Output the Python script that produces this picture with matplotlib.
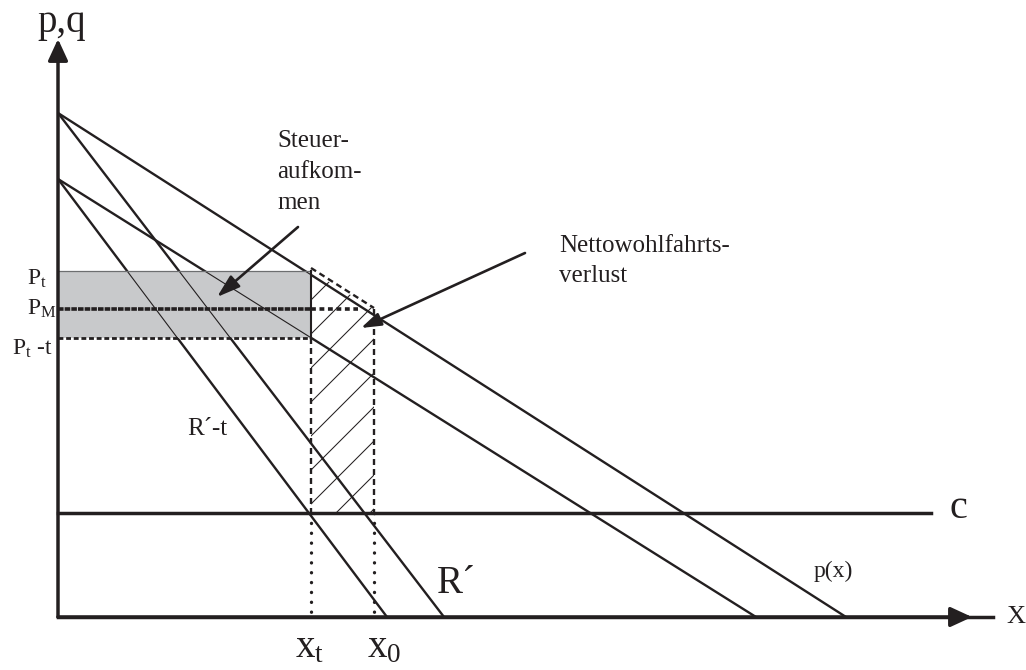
import numpy as np
import matplotlib.pyplot as plt
from matplotlib.patches import Rectangle, Polygon

plt.rcParams['font.family'] = ['Liberation Serif', 'DejaVu Serif']
plt.rcParams['mathtext.fontset'] = 'custom'
plt.rcParams['mathtext.rm'] = 'Liberation Serif'
plt.rcParams['mathtext.it'] = 'Liberation Serif:italic'
plt.rcParams['lines.scale_dashes'] = False

INK = '#231f20'
GREY_FILL = '#c8c9cb'

# straight lines: price-axis intercept and quantity-axis intercept
line_names = ['p(x)', 'R´', 'p(x)-t', 'R´-t']
price_intercepts = [504, 504, 438, 438]
quantity_intercepts = [788, 386, 698, 329]

marginal_cost = 104
x_t, x_0 = 253, 316
p_t, p_m, p_t_minus_t = 346, 308, 279
pm_line_end = 300

# axis lengths
y_axis_top = 578
x_axis_tip, x_axis_end = 914, 935
c_line_end = 873

steuer_lines = ['Steuer-', 'aufkom-', 'men']
netto_lines = ['Nettowohlfahrts-', 'verlust']

fig = plt.figure(figsize=(10.26, 6.70), dpi=100)
ax = fig.add_axes([0, 0, 1, 1])
ax.set_xlim(-58, 968)
ax.set_ylim(-53, 617)
ax.axis('off')

# demand and marginal revenue curves
for p0, q0 in zip(price_intercepts, quantity_intercepts):
    ax.plot([0, q0], [p0, 0], color=INK, lw=1.7, zorder=2, solid_capstyle='butt')

# tax revenue block, lines show through thinner
rect = Rectangle((0, p_t_minus_t), x_t, p_t - p_t_minus_t,
                 facecolor=GREY_FILL, edgecolor='none', zorder=3)
ax.add_patch(rect)
for p0, q0 in zip(price_intercepts, quantity_intercepts):
    ln, = ax.plot([0, q0], [p0, 0], color=INK, lw=0.8, zorder=4)
    ln.set_clip_path(rect)
ax.plot([0, x_t], [p_t, p_t], color='#6d6e70', lw=0.9, zorder=5)
ax.plot([x_t, x_t], [p_t_minus_t, p_t], color=INK, lw=1.5, zorder=5)
ax.plot([0, x_t], [p_t_minus_t, p_t_minus_t], color=INK, lw=2.0,
        linestyle=(0, (3.5, 2.0)), zorder=5, dash_capstyle='butt')

# monopoly price line
ax.plot([0, x_t], [p_m, p_m], color=INK, lw=2.6,
        linestyle=(0, (4.0, 0.8)), zorder=5, dash_capstyle='butt')
ax.plot([x_t, pm_line_end], [p_m, p_m], color=INK, lw=2.6,
        linestyle=(0, (3.5, 2.6)), zorder=5, dash_capstyle='butt')

# deadweight loss area, hatched
loss = Polygon([(x_t, marginal_cost), (x_t, p_t), (x_0, p_m), (x_0, marginal_cost)],
               closed=True, facecolor='none', edgecolor='none', zorder=1)
ax.add_patch(loss)
for b in np.arange(64, -220, -34):
    xs = np.array([x_t - 20, x_0 + 20])
    hl, = ax.plot(xs, xs + b, color=INK, lw=0.75, zorder=2)
    hl.set_clip_path(loss)

dash = (0, (4.3, 2.9))
ax.plot([x_t, x_0], [p_t + 3, p_m + 1], color=INK, lw=1.7, linestyle=dash, zorder=5)
ax.plot([x_0, x_0], [p_m, marginal_cost], color=INK, lw=1.7, linestyle=dash, zorder=5)
ax.plot([x_t, x_t], [p_t_minus_t, marginal_cost], color=INK, lw=1.7, linestyle=dash, zorder=5)

dots = (0, (0.1, 7.0))
for xv in (x_t, x_0):
    ax.plot([xv, xv], [marginal_cost, 0], color=INK, lw=2.4, linestyle=dots,
            dash_capstyle='round', zorder=5)

# marginal cost
ax.plot([0, c_line_end], [marginal_cost, marginal_cost], color=INK, lw=2.5, zorder=6)

# coordinate axes
ax.plot([0, x_axis_end], [0, 0], color=INK, lw=2.5, zorder=7)
ax.annotate('', xy=(x_axis_tip, 0), xytext=(0, 0),
            arrowprops=dict(arrowstyle='-|>,head_length=1.3,head_width=0.6',
                            lw=2.5, color=INK, shrinkA=0, shrinkB=0,
                            mutation_scale=10), zorder=7)
ax.annotate('', xy=(0, y_axis_top), xytext=(0, 0),
            arrowprops=dict(arrowstyle='-|>,head_length=1.3,head_width=0.6',
                            lw=2.5, color=INK, shrinkA=0, shrinkB=0,
                            mutation_scale=10), zorder=7)

# pointer arrows
ax.annotate('', xy=(159, 320), xytext=(240, 390),
            arrowprops=dict(arrowstyle='-|>,head_length=1.4,head_width=0.45',
                            lw=1.9, color=INK, shrinkA=0, shrinkB=0), zorder=8)
ax.annotate('', xy=(303, 289), xytext=(467, 364),
            arrowprops=dict(arrowstyle='-|>,head_length=1.2,head_width=0.4',
                            lw=1.9, color=INK, shrinkA=0, shrinkB=0), zorder=8)

# labels
ax.text(4, 585, 'p,q', fontsize=28, ha='center', va='baseline', color=INK)
ax.text(958, 0, 'X', fontsize=19, ha='center', va='center', color=INK)
ax.text(900, 108, 'c', fontsize=29, ha='center', va='center', color=INK)
ax.text(775, 46, line_names[0], fontsize=17, ha='center', va='center', color=INK)
ax.text(379, 24, line_names[1], fontsize=28, ha='left', va='baseline', color=INK)
ax.text(129, 182, line_names[3], fontsize=18, ha='left', va='baseline', color=INK)
ax.text(237, -40, r'x$_{\mathrm{t}}$', fontsize=28, ha='left', va='baseline', color=INK)
ax.text(309, -40, r'x$_{\mathrm{0}}$', fontsize=28, ha='left', va='baseline', color=INK)
ax.text(-31, 332, r'P$_{\mathrm{t}}$', fontsize=17, ha='left', va='baseline', color=INK)
ax.text(-31, 302, r'P$_{\mathrm{M}}$', fontsize=17, ha='left', va='baseline', color=INK)
ax.text(-46, 262, r'P$_{\mathrm{t}}$ -t', fontsize=17, ha='left', va='baseline', color=INK)

for i, s in enumerate(steuer_lines):
    ax.text(219, 470 - 31 * i, s, fontsize=18, ha='left', va='baseline', color=INK)
for i, s in enumerate(netto_lines):
    ax.text(501, 365 - 30 * i, s, fontsize=18, ha='left', va='baseline', color=INK)

fig.savefig('out.png', dpi=100, facecolor='white')
